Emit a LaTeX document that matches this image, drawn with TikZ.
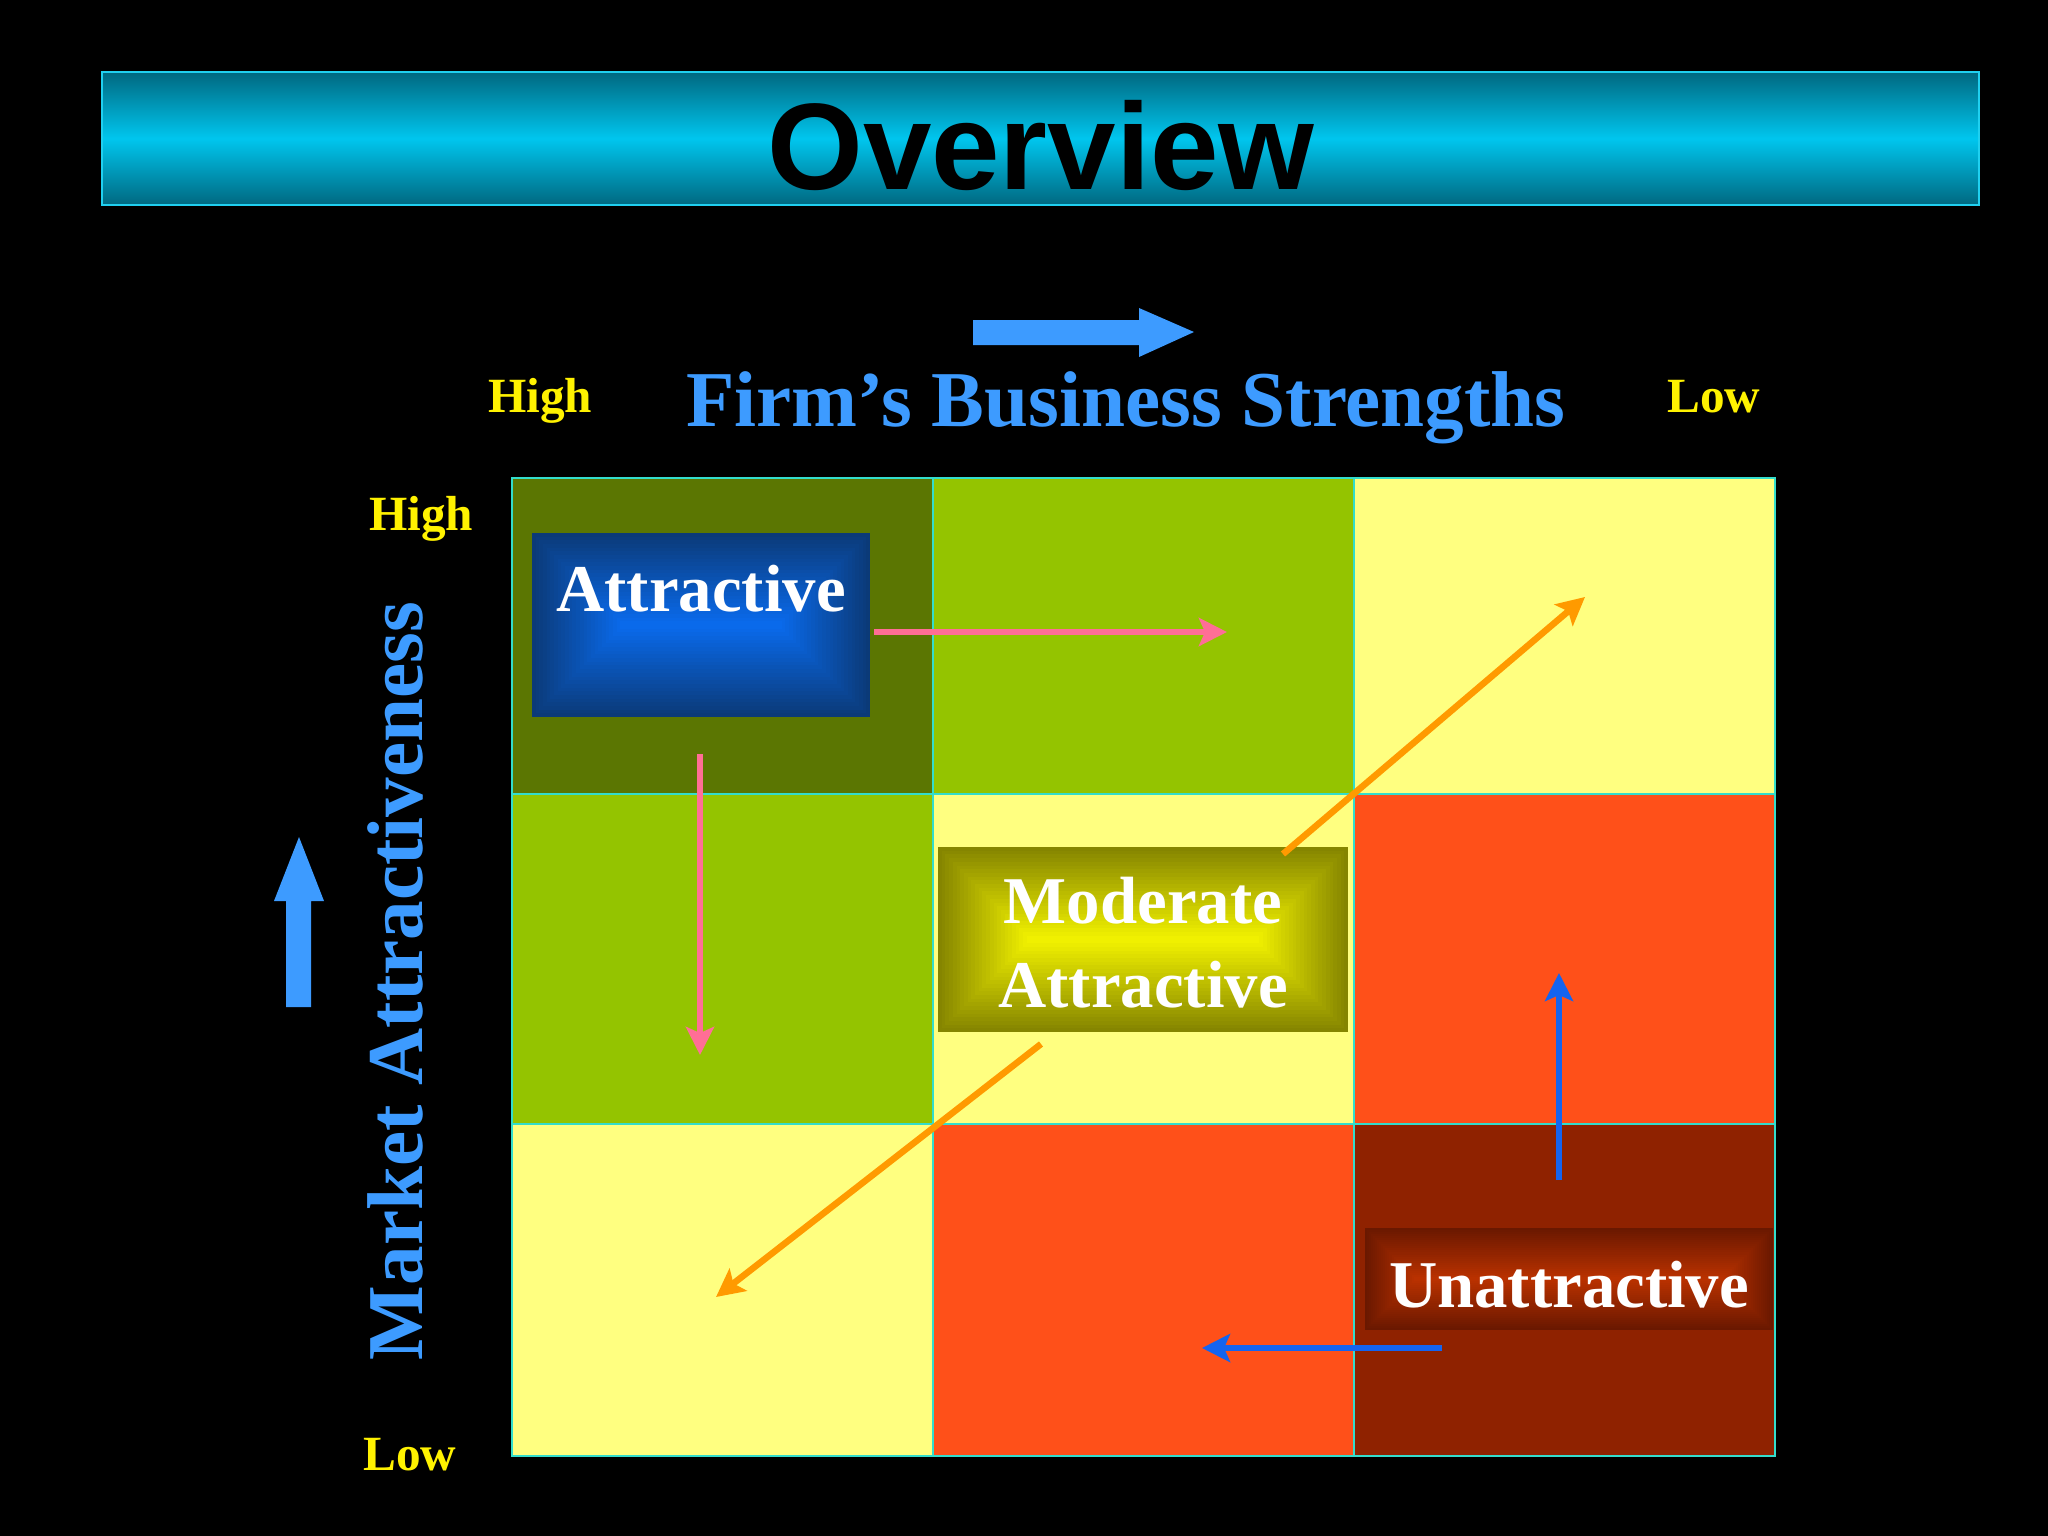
\documentclass[tikz,border=0pt]{standalone}
\usepackage{fontspec}
\setmainfont{Liberation Serif}
\newfontfamily\headfont{Liberation Sans}
\usetikzlibrary{arrows.meta}
\definecolor{olivedark}{HTML}{5B7602}
\definecolor{lime}{HTML}{94C400}
\definecolor{paleyellow}{HTML}{FFFF80}
\definecolor{redorange}{HTML}{FF5019}
\definecolor{darkred}{HTML}{8F2200}
\definecolor{gridcyan}{HTML}{33DDCC}
\definecolor{axisblue}{HTML}{3D9BFF}
\definecolor{movepink}{HTML}{FF6E96}
\definecolor{moveorange}{HTML}{FF9A00}
\definecolor{moveblue}{HTML}{1464F0}
\definecolor{bannerdark}{HTML}{006880}
\definecolor{bannerlight}{HTML}{00C6EE}
\definecolor{bannerline}{HTML}{20D0F0}
\definecolor{attrout}{HTML}{0B3A78}
\definecolor{attrin}{HTML}{0A6CF0}
\definecolor{modout}{HTML}{858500}
\definecolor{modin}{HTML}{F5F500}
\definecolor{unout}{HTML}{6A1800}
\definecolor{unin}{HTML}{BC3200}
\newcommand{\glowbox}[6]{%
  \foreach \k in {0,...,24}{%
    \pgfmathsetmacro{\sh}{\k*min(#3-#1,#4-#2)/50}%
    \pgfmathtruncatemacro{\pc}{\k*4}%
    \fill[#6!\pc!#5] (#1+\sh,#2+\sh) rectangle (#3-\sh,#4-\sh);%
  }}
\begin{document}
\begin{tikzpicture}[x=0.01cm,y=-0.01cm,
    axislabel/.style={text=axisblue,inner sep=0pt,font=\fontsize{22.5}{26}\selectfont\bfseries},
    level/.style={text=yellow,inner sep=0pt,font=\fontsize{14}{16}\selectfont\bfseries},
    boxlabel/.style={text=white,inner sep=0pt,align=center,font=\fontsize{19}{23.7}\selectfont\bfseries},
    gridline/.style={gridcyan,line width=0.025cm},
    move/.style={line width=0.065cm,-{Stealth[length=0.28cm,width=0.28cm,inset=0.06cm]}}]
  \fill[black] (0,0) rectangle (2048,1536);
  \useasboundingbox (0,0) rectangle (2048,1536);
  \shade[top color=bannerdark,bottom color=bannerdark,middle color=bannerlight] (102,72) rectangle (1979,205);
  \draw[bannerline,line width=0.025cm] (102,72) rectangle (1979,205);
  \draw (1041,189) node (title) [anchor=base,inner sep=0pt,font=\headfont\fontsize{35}{40}\selectfont\bfseries] {Overview};
  \fill[axisblue] (973,320) -- (1139,320) -- (1139,308) -- (1194,332) -- (1139,357) -- (1139,345) -- (973,345) -- cycle;
  \fill[axisblue] (286,1007) -- (286,901) -- (274,901) -- (299,837) -- (324,901) -- (311,901) -- (311,1007) -- cycle;
  \draw (540,412) node (hightop) [level,anchor=base] {High};
  \draw (1126,426) node (strength) [axislabel,anchor=base] {Firm’s Business Strengths};
  \draw (1714,412) node (lowtop) [level,anchor=base] {Low};
  \draw (421,530) node (highleft) [level,anchor=base] {High};
  \draw (410,1470) node (lowleft) [level,anchor=base] {Low};
  \draw (422,981) node (market) [axislabel,anchor=base,rotate=90] {Market Attractiveness};
  \foreach \xa/\ya/\xb/\yb/\col in {512/478/933/794/olivedark, 933/478/1354/794/lime, 1354/478/1775/794/paleyellow,
      512/794/933/1124/lime, 933/794/1354/1124/paleyellow, 1354/794/1775/1124/redorange,
      512/1124/933/1456/paleyellow, 933/1124/1354/1456/redorange, 1354/1124/1775/1456/darkred}
    \fill[\col] (\xa,\ya) rectangle (\xb,\yb);
  \glowbox{532}{533}{870}{717}{attrout}{attrin}
  \glowbox{938}{847}{1348}{1032}{modout}{modin}
  \glowbox{1365}{1228}{1773}{1330}{unout}{unin}
  \draw (701,611) node (attr) [boxlabel,anchor=base] {Attractive};
  \draw (1143,1007) node (moder) [boxlabel,anchor=base] {Moderate\\Attractive};
  \draw (1569,1307) node (unattr) [boxlabel,anchor=base] {Unattractive};
  \draw[gridline] (512,478) rectangle (1775,1456);
  \draw[gridline] (933,478) -- (933,1456) (1354,478) -- (1354,1456);
  \draw[gridline] (512,794) -- (1775,794) (512,1124) -- (1775,1124);
  \coordinate (hstart) at (874,632);
  \coordinate (hend) at (1227,632);
  \coordinate (vstart) at (700,754);
  \coordinate (vend) at (700,1055);
  \coordinate (upstart) at (1283,854);
  \coordinate (upend) at (1585,597);
  \coordinate (dnstart) at (1041,1044);
  \coordinate (dnend) at (716,1297);
  \coordinate (bupstart) at (1559,1180);
  \coordinate (bupend) at (1559,973);
  \coordinate (bleftstart) at (1442,1348);
  \coordinate (bleftend) at (1202,1348);
  \draw[move,movepink] (hstart) -- (hend);
  \draw[move,movepink] (vstart) -- (vend);
  \draw[move,moveorange] (upstart) -- (upend);
  \draw[move,moveorange] (dnstart) -- (dnend);
  \draw[move,moveblue] (bupstart) -- (bupend);
  \draw[move,moveblue] (bleftstart) -- (bleftend);
\end{tikzpicture}
\end{document}
